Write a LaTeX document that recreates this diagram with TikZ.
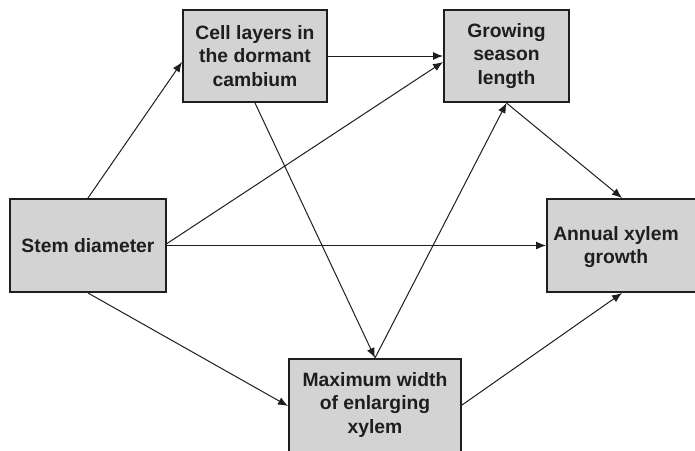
\documentclass[tikz,border=0pt]{standalone}
\usepackage{fontspec}
\setmainfont{Liberation Sans}
\usepackage{tikz}
\usetikzlibrary{calc, arrows.meta}
\usepackage{xcolor}
\definecolor{box_grey}{HTML}{D3D3D3}
\definecolor{ink}{HTML}{1E1E1E}

\begin{document}
\begin{tikzpicture}[x = 0.5pt, y = -0.5pt,
	factor/.style = {draw = ink, line width = 1pt, fill = box_grey, text = ink, align = center, inner sep = 0pt,
		font = \fontsize{9.65pt}{11.8pt}\selectfont\bfseries},
	link/.style = {draw = ink, line width = 0.5pt, -{Latex[length = 5pt, width = 4pt]}}]
	\clip (0, 0) rectangle (695, 450);
	\fill[white] (0, 0) rectangle (695, 450);
	\node[factor, minimum width = 72pt, minimum height = 46pt] (cell) at (255, 56) {Cell layers in\\the dormant\\cambium};
	\node[factor, minimum width = 62.5pt, minimum height = 46pt] (season) at (506.5, 56) {Growing\\season\\length};
	\node[factor, minimum width = 78pt, minimum height = 46.5pt] (stem) at (88, 245.5) {Stem diameter};
	\node[factor, minimum width = 75pt, minimum height = 46.5pt] (annual) at (622, 245.5) {};
	\node[text = ink, align = center, font = \fontsize{9.65pt}{11.8pt}\selectfont\bfseries] (annualtext) at (616, 247) {Annual xylem\\growth};
	\node[factor, minimum width = 86pt, minimum height = 49pt] (maxw) at (375, 408) {};
	\node[text = ink, align = center, font = \fontsize{9.65pt}{11.8pt}\selectfont\bfseries] (maxwtext) at (375, 405) {Maximum width\\of enlarging\\xylem};
	\draw[link] (stem.north) -- ($(cell.west) + (0, 6)$);
	\draw[link] (cell.east) -- (season.west);
	\draw[link] ($(stem.east) + (0, -2)$) -- ($(season.west) + (0, 6)$);
	\draw[link] (stem.east) -- (annual.west);
	\draw[link] (stem.south) -- ($(maxw.west) + (0, -2)$);
	\draw[link] (cell.south) -- (maxw.north);
	\draw[link] (maxw.north) -- (season.south);
	\draw[link] (season.south) -- (annual.north);
	\draw[link] ($(maxw.east) + (0, -3)$) -- (annual.south);
\end{tikzpicture}
\end{document}
